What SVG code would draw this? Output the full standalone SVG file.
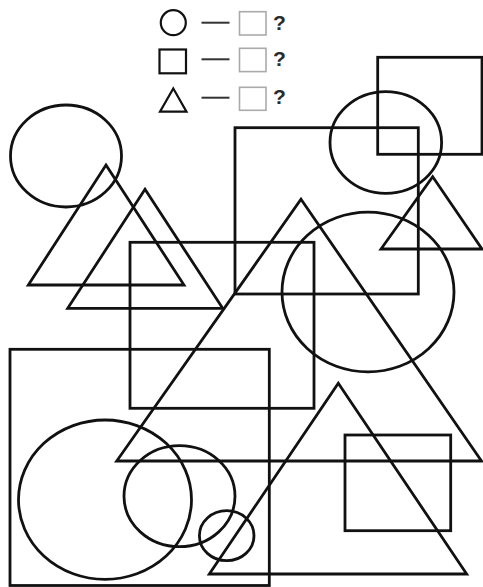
<svg xmlns="http://www.w3.org/2000/svg" width="483" height="587" viewBox="0 0 483 587">
<style>
.s{fill:none;stroke:#111;stroke-width:2.8;stroke-linejoin:miter}
.l{fill:none;stroke:#111;stroke-width:2.2}
.d{stroke:#333;stroke-width:2}
.g{fill:none;stroke:#aaa;stroke-width:1.6}
.q{font-family:"Liberation Sans",Arial,sans-serif;font-weight:bold;font-size:21px;fill:#2a2a2a}
</style>
<rect width="483" height="587" fill="#fff"/>
<g id="legend">
<g id="legend-circle">
<circle class="l" cx="173.3" cy="22.7" r="12.5"/>
<line class="d" x1="201.5" y1="22.7" x2="229.5" y2="22.7"/>
<rect class="g" x="239.5" y="11.7" width="26.5" height="23.3"/>
<text class="q" x="273" y="30">?</text>
</g>
<g id="legend-square">
<rect class="l" x="159.5" y="49.5" width="26.5" height="23.8" stroke-width="2.6"/>
<line class="d" x1="201.5" y1="59.3" x2="229.5" y2="59.3"/>
<rect class="g" x="239.5" y="48.3" width="26.5" height="23.3"/>
<text class="q" x="273" y="65.5">?</text>
</g>
<g id="legend-triangle">
<polygon class="l" points="173.3,88.5 186.5,111.7 160,111.7" stroke-width="2.5"/>
<line class="d" x1="201.5" y1="97.7" x2="229.5" y2="97.7"/>
<rect class="g" x="239.5" y="87.3" width="26.5" height="23"/>
<text class="q" x="273" y="104">?</text>
</g>
</g>
<g id="shapes">
<ellipse id="c1" class="s" cx="66" cy="156" rx="55.5" ry="51"/>
<polygon id="t1" class="s" points="106,165 184,285 28.3,285"/>
<polygon id="t2" class="s" points="145,189.3 222.7,308.3 67.7,308.3"/>
<rect id="r1" class="s" x="130" y="242.3" width="184" height="166"/>
<rect id="r2" class="s" x="235" y="127.7" width="183.3" height="166.3"/>
<rect id="r3" class="s" x="377.7" y="57.3" width="104.3" height="97"/>
<ellipse id="c2" class="s" cx="385.8" cy="142.5" rx="55.8" ry="50.8"/>
<polygon id="t3" class="s" points="432.7,176.7 482,249 381,249"/>
<polygon id="t4" class="s" points="301,199.3 481.5,461 116.7,461"/>
<ellipse id="c3" class="s" cx="368" cy="292" rx="86" ry="79.8"/>
<rect id="r4" class="s" x="10" y="349.3" width="259.3" height="236.2"/>
<ellipse id="c4" class="s" cx="105" cy="499.7" rx="86.5" ry="79.7"/>
<ellipse id="c5" class="s" cx="179.5" cy="496.2" rx="55.5" ry="50.5"/>
<ellipse id="c6" class="s" cx="226.7" cy="535.7" rx="27.3" ry="25"/>
<polygon id="t5" class="s" points="338.3,383.3 466.7,574 209.3,574"/>
<rect id="r5" class="s" x="345" y="435" width="105.7" height="95.7"/>
</g>
</svg>
